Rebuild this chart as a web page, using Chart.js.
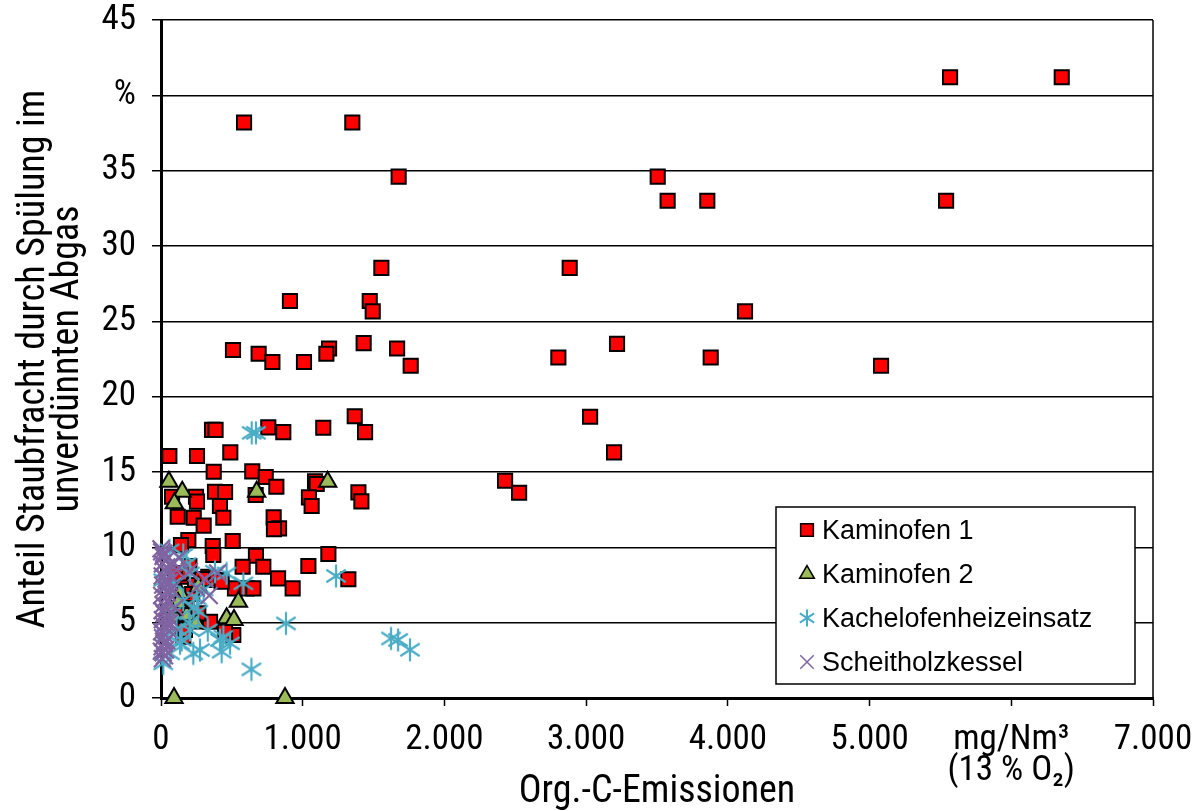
<!DOCTYPE html>
<html><head><meta charset="utf-8">
<script src="https://cdn.jsdelivr.net/npm/chart.js@4.4.0/dist/chart.umd.min.js"></script>
<style>html,body{margin:0;padding:0;background:#fff;}canvas{display:block}</style>
</head><body>
<canvas id="c" width="1202" height="811"></canvas>
<script>
// ---------- data ----------
const seriesNames = ['Kaminofen 1', 'Kaminofen 2', 'Kachelofenheizeinsatz', 'Scheitholzkessel'];

const kaminofen1X = [586,1350,5568,6356,1677,3505,3575,3855,5540,1555,2884,910,1473,1494,4121,508,689,786,1009,1186,1167,1430,1666,1762,2804,3218,3879,5081,1367,3028,3197,2428,2527,
  360,385,757,863,1145,1440,59,254,489,372,644,739,814,1087,1099,1044,1063,1393,1414,381,452,247,254,416,118,231,440,301,668,795,833,797,78,193,141,506,365,369,670,1181,
  576,722,1040,1322,826,929,522,605,652,200,157,334,393,428,157,346,510,157,452,134,240,180,263,169,99,290,220];
const kaminofen1Y = [38.2,38.2,41.2,41.2,34.6,34.6,33.0,33.0,33.0,28.55,28.55,26.35,26.35,25.66,25.66,23.1,22.85,22.3,22.3,23.2,22.85,23.55,23.2,22.05,22.6,23.5,22.6,22.05,18.7,18.67,16.3,14.42,13.62,
  17.8,17.8,17.96,17.65,17.94,17.65,16.06,16.06,16.3,15.02,15.04,14.67,14.02,14.38,14.2,13.32,12.74,13.65,13.05,13.69,13.67,13.36,13.03,12.74,12.03,11.96,11.96,11.44,13.47,11.99,11.26,11.21,13.36,10.48,10.15,10.42,10.09,9.49,9.44,9.56,
  8.71,8.71,8.76,7.88,7.94,7.28,7.28,7.28,7.28,8.76,8.05,8.05,7.83,7.72,5.62,5.06,4.18,4.07,4.4,8.27,7.5,6.5,5.62,4.51,8.27,7.9,6.9];

const kaminofen2X = [92,875,56,150,94,675,1176,263,546,463,515,99,181,134,250,120,60];
const kaminofen2Y = [0,0,14.35,13.69,12.92,13.69,14.35,7.39,6.39,5.29,5.18,5.4,5.5,6.97,4.95,6.3,6.0];

const kachelX = [640,670,882,638,1235,1623,1673,1757,581,463,381,157,205,252,263,440,428,275,228,134,16,64,157,87,16,205,416,487,146,75,300,200,110,40,330,180,60,230];
const kachelY = [17.6,17.6,4.95,1.9,8.1,3.95,3.85,3.2,7.61,8.27,8.38,9.49,8.27,6.62,5.73,4.07,3.07,3.18,2.96,3.63,2.3,2.96,6.5,7.61,7.83,4.51,3.85,3.63,3.85,5.62,7.2,5.0,4.6,4.2,4.5,8.9,9.8,6.0];

const scheitX = [5,15,30,10,40,20,50,8,35,60,12,25,45,5,30,55,15,40,8,22,50,10,35,18,45,5,28,12,40,20,8,32,15,25,10,90,110,100,75,130,200,340,400,310,250,0,20,45,3,60,25];
const scheitY = [9.7,9.4,9.1,8.9,8.7,8.5,8.3,8.1,7.9,7.7,7.5,7.3,7.0,6.8,6.6,6.4,6.2,6.0,5.8,5.6,5.4,5.2,5.0,4.8,4.6,4.4,4.2,4.0,3.8,3.6,3.4,3.2,3.0,2.8,2.6,9.0,8.5,6.0,7.2,9.3,8.4,6.8,8.3,7.9,7.3,9.9,9.6,7.6,3.1,5.0,3.7];

const xTickValues = [0,1000,2000,3000,4000,5000,6000,7000];
const xTickLabels = ['0','1.000','2.000','3.000','4.000','5.000',['mg/Nm³','(13 % O₂)'],'7.000'];
const yTickValues = [0,5,10,15,20,25,30,35,40,45];
const yTickLabels = ['0','5','10','15','20','25','30','35','%','45'];

const xTitle = 'Org.-C-Emissionen';
const yTitle = ['Anteil Staubfracht durch Spülung im', 'unverdünnten Abgas'];

// ---------- helpers ----------
function pts(xs, ys){ return xs.map((x,i)=>({x:x, y:ys[i]})); }
function hasFont(name){
  const g=document.createElement('canvas').getContext('2d');
  g.font='40px monospace'; const a=g.measureText('1.000 Org-Emissionen').width;
  g.font='40px "'+name+'", monospace'; const b=g.measureText('1.000 Org-Emissionen').width;
  return Math.abs(a-b)>0.5;
}
const narrowCandidates = ['Liberation Sans Narrow','Arial Narrow','Roboto Condensed','Open Sans Condensed'];
const narrowFont = narrowCandidates.find(hasFont);
const axisFamily = narrowFont ? '"'+narrowFont+'", "Liberation Sans", Arial, sans-serif' : '"Liberation Sans", Arial, sans-serif';
const tickSize = narrowFont ? 35 : 30;
const titleSize = narrowFont ? 38 : 32;

function makeStar(size, r, lw, color){
  const c=document.createElement('canvas'); c.width=size; c.height=size;
  const g=c.getContext('2d'); g.strokeStyle=color; g.lineWidth=lw; g.lineCap='butt';
  const m=size/2;
  g.beginPath();
  g.moveTo(m, m-r); g.lineTo(m, m+r);
  const a=Math.PI/5.5, dx=r*Math.cos(a), dy=r*Math.sin(a);
  g.moveTo(m-dx, m-dy); g.lineTo(m+dx, m+dy);
  g.moveTo(m-dx, m+dy); g.lineTo(m+dx, m-dy);
  g.stroke();
  return c;
}
const starBig = makeStar(26, 11.5, 2.2, '#4BACC6');
const starSmall = makeStar(20, 8.5, 2, '#4BACC6');

const styles = [
  {pointStyle:'rect', backgroundColor:'#FF0000', borderColor:'#000', borderWidth:2, radius:10, legendRadius:9},
  {pointStyle:'triangle', backgroundColor:'#9BBB59', borderColor:'#000', borderWidth:2, radius:10, legendRadius:8.5},
  {pointStyle:starBig, legendStyle:starSmall, backgroundColor:'#4BACC6', borderColor:'#4BACC6', borderWidth:2, radius:11, legendRadius:8},
  {pointStyle:'crossRot', backgroundColor:'#8064A2', borderColor:'#8064A2', borderWidth:2.2, radius:12, legendRadius:9.5}
];
const allData = [pts(kaminofen1X,kaminofen1Y), pts(kaminofen2X,kaminofen2Y), pts(kachelX,kachelY), pts(scheitX,scheitY)];

const datasets = allData.map((d,i)=>({
  label: seriesNames[i], data: d, order: 4-i, clip: false,
  pointStyle: styles[i].pointStyle, pointRadius: styles[i].radius, pointHoverRadius: styles[i].radius,
  backgroundColor: styles[i].backgroundColor, borderColor: styles[i].borderColor, pointBorderWidth: styles[i].borderWidth,
  showLine: false
}));

const framePlugin = {
  id:'frame',
  beforeDatasetsDraw(chart){
    const {ctx, chartArea:a} = chart;
    ctx.save(); ctx.strokeStyle='#000'; ctx.lineWidth=1.5;
    ctx.beginPath(); ctx.moveTo(a.right, a.top); ctx.lineTo(a.right, a.bottom); ctx.stroke();
    ctx.restore();
  }
};
const legendPlugin = {
  id:'boxLegend',
  afterDraw(chart){
    const {ctx, chartArea:a} = chart;
    const R = a.right - 18, L = R - 359, T = a.top + 487, B = T + 177;
    ctx.save();
    ctx.fillStyle='#fff'; ctx.fillRect(L,T,R-L,B-T);
    ctx.strokeStyle='#000'; ctx.lineWidth=1.5; ctx.strokeRect(L,T,R-L,B-T);
    ctx.font='27px "Liberation Sans", Arial, sans-serif';
    ctx.textBaseline='alphabetic'; ctx.textAlign='left';
    seriesNames.forEach((name,i)=>{
      const cy = T + 23 + i*44;
      const s = styles[i];
      ctx.fillStyle = s.backgroundColor; ctx.strokeStyle = s.borderColor;
      Chart.helpers.drawPoint(ctx, {pointStyle: s.legendStyle || s.pointStyle, radius: s.legendRadius, rotation:0, borderWidth: 1.6}, L+31, cy);
      ctx.fillStyle='#000';
      ctx.fillText(name, L+46, cy+9);
    });
    ctx.restore();
  }
};

new Chart(document.getElementById('c'), {
  type:'scatter',
  data:{datasets},
  plugins:[framePlugin, legendPlugin],
  options:{
    responsive:false, animation:false, events:[],
    layout:{padding:{top:20, right:49, left:0, bottom:0}},
    plugins:{legend:{display:false}, tooltip:{enabled:false}},
    scales:{
      x:{
        type:'linear', min:0, max:7000,
        afterBuildTicks(s){ s.ticks = xTickValues.map(v=>({value:v})); },
        afterFit(s){ s.height = 113; s.paddingLeft = 0; s.paddingRight = 0; },
        ticks:{ autoSkip:false, maxRotation:0, color:'#000', padding:18,
          font:{family:axisFamily, size:tickSize, lineHeight:0.9},
          callback:(v)=>{ const i=xTickValues.indexOf(v); return i>=0?xTickLabels[i]:''; } },
        grid:{ drawOnChartArea:false, drawTicks:true, tickLength:8, tickColor:'#000', tickWidth:1.5 },
        border:{ display:true, color:'#000', width:3 },
        title:{ display:true, text:xTitle, color:'#000', padding:{top:0,bottom:0},
          font:{family:axisFamily, size:titleSize, lineHeight:1.0} }
      },
      y:{
        type:'linear', min:0, max:45,
        afterBuildTicks(s){ s.ticks = yTickValues.map(v=>({value:v})); },
        afterFit(s){ s.width = 161; s.paddingTop = 0; s.paddingBottom = 0; },
        ticks:{ color:'#000', padding:16, font:{family:axisFamily, size:tickSize},
          callback:(v)=>{ const i=yTickValues.indexOf(v); return i>=0?yTickLabels[i]:''; } },
        grid:{ color:'#000', lineWidth:1.5, drawTicks:true, tickLength:9, tickColor:'#000', tickWidth:1.5 },
        border:{ display:true, color:'#000', width:3 },
        title:{ display:true, text:yTitle, color:'#000', padding:{top:17,bottom:0},
          font:{family:axisFamily, size:titleSize, lineHeight:0.9} }
      }
    }
  }
});
</script>
</body></html>
